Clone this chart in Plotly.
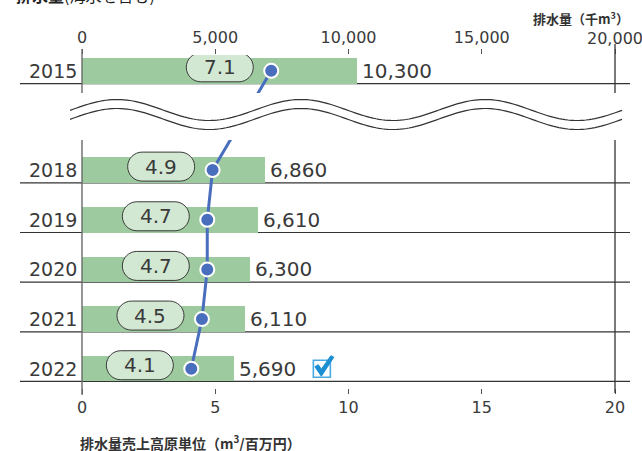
import numpy as np
import plotly.graph_objects as go

# ---------------- data ----------------
years = ["2015", "2018", "2019", "2020", "2021", "2022"]
rows = [6, 4, 3, 2, 1, 0]                      # vertical slot of each year (gap = axis break)
volume = [10300, 6860, 6610, 6300, 6110, 5690]  # 排水量 (千m3)
intensity = [7.1, 4.9, 4.7, 4.7, 4.5, 4.1]      # 排水量売上高原単位 (m3/百万円)
top_tickvals = [0, 5000, 10000, 15000, 20000]
top_ticktext = ["0", "5,000", "10,000", "15,000", "20,000"]
bottom_tickvals = [0, 5, 10, 15, 20]
bottom_ticktext = ["0", "5", "10", "15", "20"]

# ---------------- geometry helpers ----------------
W, H = 642, 451
L, R, T, B = 82, 615, 55, 388
PXU = 49.65        # pixels per row unit
Y0 = 368.7         # pixel y of row 0 centre
BAR_W = 0.514


def py(p):
    return (Y0 - p) / PXU


def paper_x(p):
    return (p - L) / (R - L)


def paper_y(p):
    return (B - p) / (B - T)


FONT = "DejaVu Sans"
CJK = "Noto Sans CJK JP"
TXT = "#3a3a3a"
BAR_C = "#9dcb9f"
PILL_C = "#d2e8d3"
BLUE = "#4a6ebe"
WEIGHT = 400

fig = go.Figure()

fig.add_trace(go.Bar(
    x=volume, y=rows, orientation="h", width=BAR_W,
    marker=dict(color=BAR_C, line=dict(width=0)),
    xaxis="x", yaxis="y", hoverinfo="skip", showlegend=False))

fig.add_trace(go.Scatter(
    x=intensity, y=rows, mode="lines+markers",
    line=dict(color=BLUE, width=3),
    marker=dict(size=14, color=BLUE, line=dict(color="white", width=2)),
    xaxis="x2", yaxis="y", cliponaxis=False, hoverinfo="skip", showlegend=False))

shapes = []
annotations = []

# row base lines
for r in rows:
    yp = paper_y(Y0 - (r - BAR_W / 2) * PXU)
    shapes.append(dict(type="line", xref="paper", yref="paper",
                       x0=paper_x(20), x1=paper_x(630), y0=yp, y1=yp,
                       line=dict(color="#333333", width=1.2), layer="below"))

# vertical frame lines at 0 and max
shapes.append(dict(type="line", xref="paper", yref="paper", x0=0, x1=0,
                   y0=paper_y(49), y1=paper_y(395),
                   line=dict(color="#6a6a6a", width=1.4), layer="above"))
shapes.append(dict(type="line", xref="paper", yref="paper", x0=1, x1=1,
                   y0=paper_y(44), y1=paper_y(393),
                   line=dict(color="#333333", width=1.3), layer="above"))

# white break band
shapes.append(dict(type="rect", xref="paper", yref="paper",
                   x0=paper_x(60), x1=paper_x(634), y0=paper_y(140), y1=paper_y(93),
                   fillcolor="white", line=dict(width=0), layer="above"))


# wavy break lines (decoration)
def wave_path(center, amp):
    xs = np.arange(70, 624, 3.0)
    ys = center - amp * np.cos(2 * np.pi * (xs - 117) / 184)
    pts = [f"{paper_x(x):.5f},{paper_y(y):.5f}" for x, y in zip(xs, ys)]
    return "M " + " L ".join(pts)


for c in (110, 119):
    shapes.append(dict(type="path", xref="paper", yref="paper", path=wave_path(c, 10.5),
                       line=dict(color="#333333", width=1.2), layer="above"))

# pill shaped labels for intensity
PILL = ("M -19,-14.5 L 19,-14.5 C 27,-14.5 33.5,-8 33.5,0 C 33.5,8 27,14.5 19,14.5 "
        "L -19,14.5 C -27,14.5 -33.5,8 -33.5,0 C -33.5,-8 -27,-14.5 -19,-14.5 Z")
PILL_DX = 1.93
PILL_DY = 0.07
for v, r in zip(intensity, rows):
    shapes.append(dict(type="path", xref="x2", yref="y",
                       xsizemode="pixel", ysizemode="pixel",
                       xanchor=v - PILL_DX, yanchor=r + PILL_DY, path=PILL,
                       fillcolor=PILL_C, line=dict(color="#3a3a3a", width=1), layer="above"))
    annotations.append(dict(xref="x2", yref="y", x=v - PILL_DX, y=r + PILL_DY,
                            text=f"{v}", showarrow=False,
                            font=dict(family=FONT, size=20, color=TXT, weight=WEIGHT),
                            xanchor="center", yanchor="middle"))

# value labels
for v, r in zip(volume, rows):
    annotations.append(dict(xref="x", yref="y", x=v, y=r, text=f"{v:,}",
                            showarrow=False, xanchor="left", yanchor="middle", xshift=3,
                            font=dict(family=FONT, size=20, color=TXT, weight=WEIGHT)))

# year labels
for yl, r in zip(years, rows):
    annotations.append(dict(xref="paper", yref="y", x=paper_x(79), y=r, text=yl,
                            showarrow=False, xanchor="right", yanchor="middle",
                            font=dict(family=FONT, size=19, color=TXT, weight=WEIGHT)))

# last top tick label (would otherwise be dropped at the page edge)
annotations.append(dict(xref="x", yref="paper", x=top_tickvals[-1], y=paper_y(39),
                        text=top_ticktext[-1], showarrow=False, xanchor="center",
                        yanchor="middle",
                        font=dict(family=FONT, size=16, color=TXT, weight=WEIGHT)))

# check mark next to the latest value
shapes.append(dict(type="rect", xref="x2", yref="y", xsizemode="pixel", ysizemode="pixel",
                   xanchor=9.0, yanchor=rows[-1], x0=-8.5, x1=8.5, y0=-8.5, y1=8.5,
                   line=dict(color="#49a9e0", width=1.6), fillcolor="rgba(0,0,0,0)", layer="above"))
shapes.append(dict(type="path", xref="x2", yref="y", xsizemode="pixel", ysizemode="pixel",
                   xanchor=9.0, yanchor=rows[-1],
                   path="M -7,2 L -3.5,4 L -0.5,-0.5 L 9,13 L 12,11.5 L -0.5,-7.5 Z",
                   fillcolor="#1b8fd2", line=dict(color="#1b8fd2", width=1), layer="above"))

# axis titles
annotations.append(dict(xref="paper", yref="paper", x=paper_x(631), y=paper_y(18),
                        text="<b>排水量（千m<sup>3</sup>）</b>", showarrow=False,
                        xanchor="right", yanchor="middle",
                        font=dict(family=CJK, size=13, color="#333333")))
annotations.append(dict(xref="paper", yref="paper", x=paper_x(78), y=paper_y(442),
                        text="<b>排水量売上高原単位（m<sup>3</sup>/百万円）</b>", showarrow=False,
                        xanchor="left", yanchor="middle",
                        font=dict(family=CJK, size=14, color="#333333")))
# cut-off chart heading at the very top
annotations.append(dict(xref="paper", yref="paper", x=paper_x(14), y=paper_y(-5),
                        text="<b>排水量</b><span style='font-size:16px'>(海水を含む)</span>",
                        showarrow=False, xanchor="left", yanchor="middle",
                        font=dict(family=CJK, size=16, color="#222222")))

axis_common = dict(showgrid=False, zeroline=False, showline=False, ticks="outside",
                   ticklen=5, tickwidth=1, tickcolor="#555555",
                   tickfont=dict(family=FONT, size=16, color=TXT, weight=WEIGHT),
                   fixedrange=True)

fig.update_layout(
    width=W, height=H,
    margin=dict(l=L, r=W - R, t=T, b=H - B, pad=0),
    paper_bgcolor="white", plot_bgcolor="white",
    showlegend=False, bargap=0,
    xaxis=dict(range=[0, 20000], side="top", anchor="y", tickmode="array",
               tickvals=top_tickvals, ticktext=top_ticktext[:-1] + [""], **axis_common),
    xaxis2=dict(range=[0, 20], side="bottom", overlaying="x", anchor="y", tickmode="array",
                tickvals=bottom_tickvals, ticktext=bottom_ticktext, **axis_common),
    yaxis=dict(range=[py(B), py(T)], visible=False, fixedrange=True),
    shapes=shapes, annotations=annotations,
)

fig.write_html("out.html")
